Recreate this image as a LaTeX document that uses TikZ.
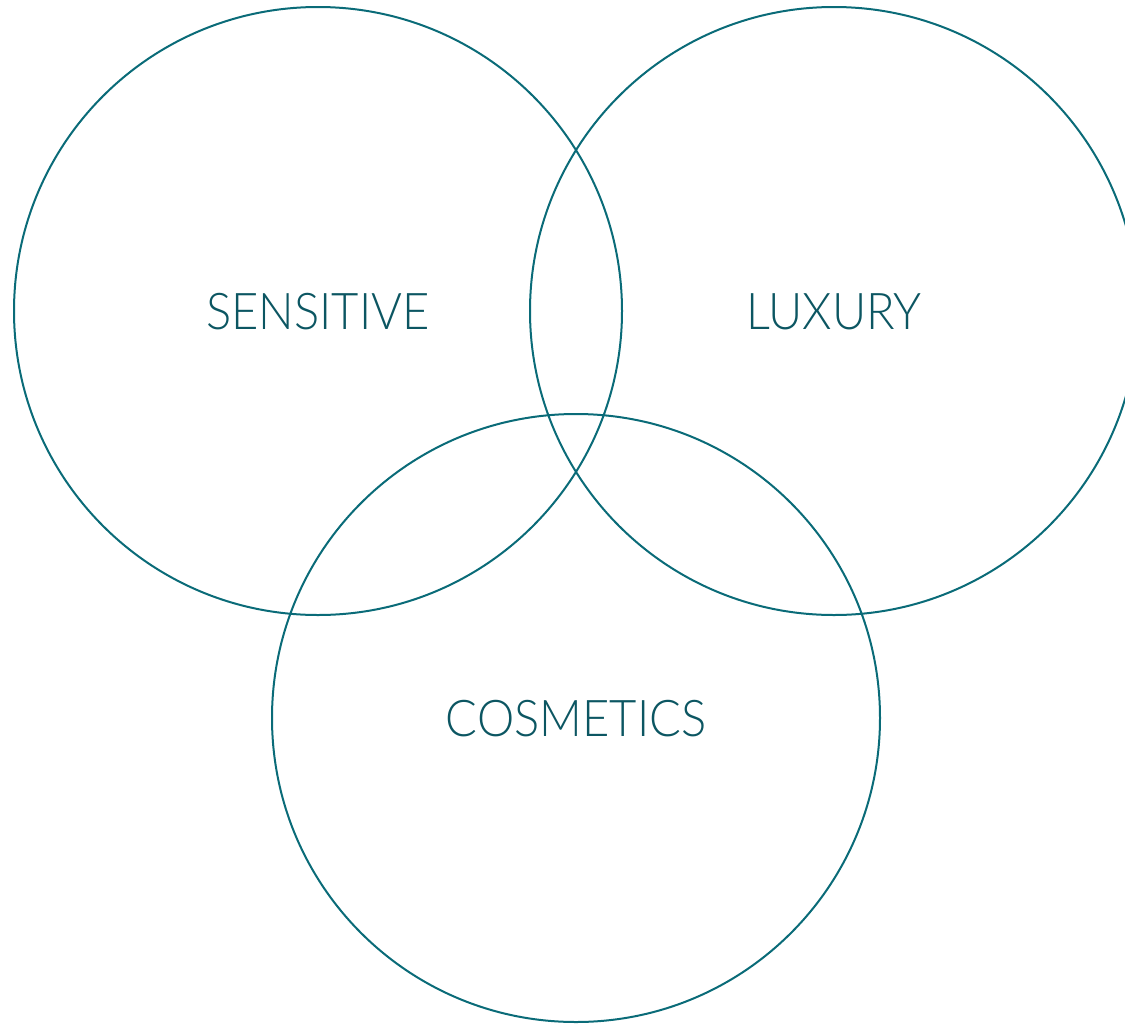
\documentclass[tikz,border=0pt]{standalone}
\usepackage{fontspec}
\setmainfont{Lato}[UprightFont=* Light]
\definecolor{ring}{HTML}{0A6B78}
\definecolor{lab}{HTML}{0C5662}
\newcommand{\lbltxt}[1]{\scalebox{0.93}[1]{#1}}
\begin{document}
\begin{tikzpicture}[x=0.75pt,y=-0.75pt,
  ringstyle/.style={draw=ring,line width=1.5pt},
  labstyle/.style={text=lab,font=\fontsize{38}{38}\selectfont,inner sep=0pt}]
\useasboundingbox (0,0) rectangle (1125,1025);
\clip (0,0) rectangle (1125,1025);
\draw[ringstyle] (318,311) circle[radius=304];
\draw[ringstyle] (834,311) circle[radius=304];
\draw[ringstyle] (576,718) circle[radius=304];
\node[labstyle] (s) at (318,312) {\lbltxt{SENSITIVE}};
\node[labstyle] (l) at (834,312) {\lbltxt{LUXURY}};
\node[labstyle] (c) at (576,719) {\lbltxt{COSMETICS}};
\end{tikzpicture}
\end{document}
